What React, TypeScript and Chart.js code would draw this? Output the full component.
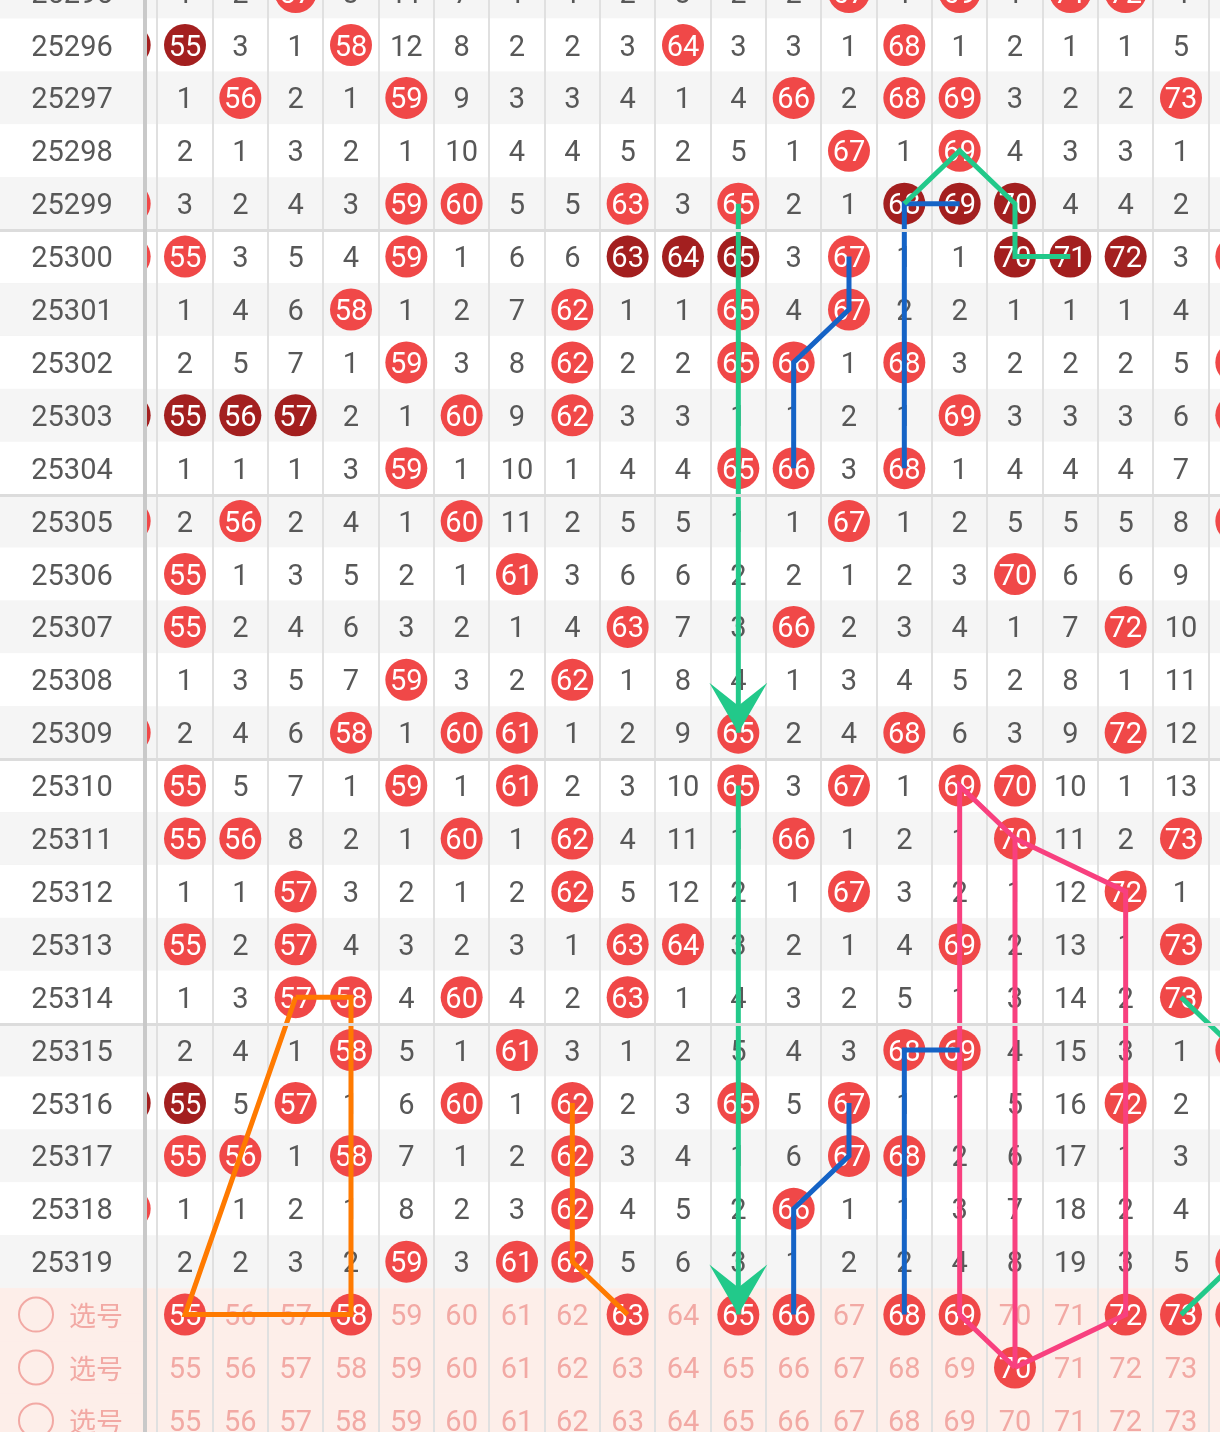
import { useEffect, useRef } from "react";
import { Chart, registerables } from "chart.js";

Chart.register(...registerables);

// ---- data ----
const columns = [55, 56, 57, 58, 59, 60, 61, 62, 63, 64, 65, 66, 67, 68, 69, 70, 71, 72, 73];
const periods = [
  "25295", "25296", "25297", "25298", "25299", "25300", "25301", "25302", "25303", "25304",
  "25305", "25306", "25307", "25308", "25309", "25310", "25311", "25312", "25313", "25314",
  "25315", "25316", "25317", "25318", "25319",
];
const R = 0; // drawn number (red ball)
const D = -1; // drawn consecutive number (dark ball)
// miss counts per period, columns 55..73
const missTable: number[][] = [
  [1, 2, R, 3, 11, 7, 1, 1, 2, 3, 2, 2, R, 1, R, 1, R, R, 4], // 25295
  [D, 3, 1, R, 12, 8, 2, 2, 3, R, 3, 3, 1, R, 1, 2, 1, 1, 5], // 25296
  [1, R, 2, 1, R, 9, 3, 3, 4, 1, 4, R, 2, R, R, 3, 2, 2, R], // 25297
  [2, 1, 3, 2, 1, 10, 4, 4, 5, 2, 5, 1, R, 1, R, 4, 3, 3, 1], // 25298
  [3, 2, 4, 3, R, R, 5, 5, R, 3, R, 2, 1, D, D, D, 4, 4, 2], // 25299
  [R, 3, 5, 4, R, 1, 6, 6, D, D, D, 3, R, 1, 1, D, D, D, 3], // 25300
  [1, 4, 6, R, 1, 2, 7, R, 1, 1, R, 4, R, 2, 2, 1, 1, 1, 4], // 25301
  [2, 5, 7, 1, R, 3, 8, R, 2, 2, R, R, 1, R, 3, 2, 2, 2, 5], // 25302
  [D, D, D, 2, 1, R, 9, R, 3, 3, 1, 1, 2, 1, R, 3, 3, 3, 6], // 25303
  [1, 1, 1, 3, R, 1, 10, 1, 4, 4, R, R, 3, R, 1, 4, 4, 4, 7], // 25304
  [2, R, 2, 4, 1, R, 11, 2, 5, 5, 1, 1, R, 1, 2, 5, 5, 5, 8], // 25305
  [R, 1, 3, 5, 2, 1, R, 3, 6, 6, 2, 2, 1, 2, 3, R, 6, 6, 9], // 25306
  [R, 2, 4, 6, 3, 2, 1, 4, R, 7, 3, R, 2, 3, 4, 1, 7, R, 10], // 25307
  [1, 3, 5, 7, R, 3, 2, R, 1, 8, 4, 1, 3, 4, 5, 2, 8, 1, 11], // 25308
  [2, 4, 6, R, 1, R, R, 1, 2, 9, R, 2, 4, R, 6, 3, 9, R, 12], // 25309
  [R, 5, 7, 1, R, 1, R, 2, 3, 10, R, 3, R, 1, R, R, 10, 1, 13], // 25310
  [R, R, 8, 2, 1, R, 1, R, 4, 11, 1, R, 1, 2, 1, R, 11, 2, R], // 25311
  [1, 1, R, 3, 2, 1, 2, R, 5, 12, 2, 1, R, 3, 2, 1, 12, R, 1], // 25312
  [R, 2, R, 4, 3, 2, 3, 1, R, R, 3, 2, 1, 4, R, 2, 13, 1, R], // 25313
  [1, 3, R, R, 4, R, 4, 2, R, 1, 4, 3, 2, 5, 1, 3, 14, 2, R], // 25314
  [2, 4, 1, R, 5, 1, R, 3, 1, 2, 5, 4, 3, R, R, 4, 15, 3, 1], // 25315
  [D, 5, R, 1, 6, R, 1, R, 2, 3, R, 5, R, 1, 1, 5, 16, R, 2], // 25316
  [R, R, 1, R, 7, 1, 2, R, 3, 4, 1, 6, R, R, 2, 6, 17, 1, 3], // 25317
  [1, 1, 2, 1, 8, 2, 3, R, 4, 5, 2, R, 1, 1, 3, 7, 18, 2, 4], // 25318
  [2, 2, 3, 2, R, 3, R, R, 5, 6, 3, 1, 2, 2, 4, 8, 19, 3, 5], // 25319
];
// balls of the neighbouring columns 54 and 74 (only their edges are visible)
const leftEdgeBalls = ["", "D", "", "", "R", "R", "", "", "D", "", "R", "", "", "", "R", "", "", "", "", "", "", "D", "", "R", ""];
const rightEdgeBalls = ["", "", "", "", "", "R", "", "R", "R", "", "R", "", "", "", "", "", "", "", "", "", "R", "", "", "", "R"];
const selectLabels = ["选号", "选号", "选号"];
const selectKeys = ["S1", "S2", "S3"];
const selectPicks = [[55, 58, 63, 65, 66, 68, 69, 72, 73, 74], [70], []];

type Pt = [number, string];
const greenLines: Pt[][] = [
  [[68, "25299"], [69, "25298"], [70, "25299"], [70, "25300"], [71, "25300"]],
  [[65, "25299"], [65, "25309"]],
  [[65, "25310"], [65, "S1"]],
  [[73, "25314"], [74, "25315"]],
  [[73, "S1"], [74, "25319"]],
];
const greenArrowTips: Pt[] = [[65, "25309"], [65, "S1"]];
const blueLines: Pt[][] = [
  [[69, "25299"], [68, "25299"], [68, "25304"]],
  [[67, "25300"], [67, "25301"], [66, "25302"], [66, "25304"]],
  [[69, "25315"], [68, "25315"], [68, "S1"]],
  [[67, "25316"], [67, "25317"], [66, "25318"], [66, "S1"]],
];
const orangeLines: Pt[][] = [
  [[57, "25314"], [58, "25314"], [58, "S1"], [55, "S1"], [57, "25314"]],
  [[62, "25316"], [62, "25319"], [63, "S1"]],
];
const pinkLines: Pt[][] = [
  [[70, "S2"], [69, "S1"], [69, "25310"], [70, "25311"], [72, "25312"], [72, "S1"], [70, "S2"]],
  [[70, "25311"], [70, "S2"]],
];
const groupBreaks = ["25300", "25305", "25310", "25315"];

// ---- styling ----
const RED = "#f04848";
const DARK = "#a31f1f";
const TEXT = "#585858";
const PALE = "#f2a9a4";
const GRAY_ROW = "#f5f5f5";
const PINK_ROW = "#fdeee9";
const GRID = "#e0e0e0";
const FONT = "29px Roboto, 'Noto Sans', sans-serif";
const CJK = "27px 'Noto Sans CJK SC', sans-serif";

const rowValue = (key: string): number => {
  const i = periods.indexOf(key);
  if (i >= 0) return i;
  return periods.length + selectKeys.indexOf(key);
};

const X_MIN = 55 - 185 / 55.333;
const X_MAX = 55 + 1035 / 55.333;
const Y_MIN = 1 - 45 / 52.9;
const Y_MAX = 1 + 1387 / 52.9;

function buildBalls() {
  const pts: { x: number; y: number }[] = [];
  const colors: string[] = [];
  periods.forEach((_, p) => {
    if (leftEdgeBalls[p]) {
      pts.push({ x: 54, y: p });
      colors.push(leftEdgeBalls[p] === "D" ? DARK : RED);
    }
    missTable[p].forEach((v, ci) => {
      if (v <= 0) {
        pts.push({ x: columns[ci], y: p });
        colors.push(v === D ? DARK : RED);
      }
    });
    if (rightEdgeBalls[p]) {
      pts.push({ x: 74, y: p });
      colors.push(rightEdgeBalls[p] === "D" ? DARK : RED);
    }
  });
  selectPicks.forEach((picks, s) => {
    picks.forEach((c) => {
      pts.push({ x: c, y: rowValue(selectKeys[s]) });
      colors.push(RED);
    });
  });
  return { pts, colors };
}

function lineSets(paths: Pt[][], color: string) {
  return paths.map((path, i) => ({
    type: "line" as const,
    label: `line-${color}-${i}`,
    data: path.map(([c, k]) => ({ x: c, y: rowValue(k) })),
    borderColor: color,
    borderWidth: 5,
    pointRadius: 0,
    showLine: true,
    fill: false,
    tension: 0,
    order: 0,
    clip: false as any,
  }));
}

const tablePlugin = {
  id: "lotteryTable",
  beforeDatasetsDraw(chart: any) {
    const { ctx } = chart;
    const xs = chart.scales.x;
    const ys = chart.scales.y;
    const W = chart.width;
    const total = periods.length + selectKeys.length;
    ctx.save();
    for (let p = 0; p < total; p++) {
      const top = ys.getPixelForValue(p - 0.5);
      const bot = ys.getPixelForValue(p + 0.5);
      ctx.fillStyle = p >= periods.length ? PINK_ROW : p % 2 === 0 ? GRAY_ROW : "#ffffff";
      ctx.fillRect(0, top, W, bot - top);
    }
    ctx.strokeStyle = GRID;
    ctx.lineWidth = 2;
    for (let c = 54; c <= 74; c++) {
      const x = Math.round(xs.getPixelForValue(c + 0.5));
      ctx.beginPath();
      ctx.moveTo(x, 0);
      ctx.lineTo(x, chart.height);
      ctx.stroke();
    }
    ctx.restore();
  },
  afterDatasetDraw(chart: any, args: any) {
    if (chart.data.datasets[args.index].label !== "balls") return;
    const { ctx } = chart;
    const xs = chart.scales.x;
    const ys = chart.scales.y;
    ctx.save();
    ctx.font = FONT;
    ctx.textAlign = "center";
    ctx.textBaseline = "alphabetic";
    periods.forEach((_, p) => {
      const y = ys.getPixelForValue(p) + 10.5;
      missTable[p].forEach((v, ci) => {
        const x = xs.getPixelForValue(columns[ci]);
        if (v <= 0) {
          ctx.fillStyle = "#ffffff";
          ctx.fillText(String(columns[ci]), x, y);
        } else {
          ctx.fillStyle = TEXT;
          ctx.fillText(String(v), x, y);
        }
      });
    });
    selectKeys.forEach((k, s) => {
      const y = ys.getPixelForValue(rowValue(k)) + 10.5;
      columns.forEach((c) => {
        const hit = selectPicks[s].includes(c);
        ctx.fillStyle = hit ? "#ffffff" : PALE;
        ctx.fillText(String(c), xs.getPixelForValue(c), y);
      });
    });
    ctx.restore();
  },
  afterDatasetsDraw(chart: any) {
    const { ctx } = chart;
    const xs = chart.scales.x;
    const ys = chart.scales.y;
    ctx.save();
    ctx.fillStyle = "#22c98a";
    greenArrowTips.forEach(([c, k]) => {
      const x = xs.getPixelForValue(c);
      const y = ys.getPixelForValue(rowValue(k));
      ctx.beginPath();
      ctx.moveTo(x, y);
      ctx.lineTo(x - 29, y - 50);
      ctx.lineTo(x, y - 27);
      ctx.lineTo(x + 29, y - 50);
      ctx.closePath();
      ctx.fill();
    });
    ctx.restore();
  },
  afterDraw(chart: any) {
    const { ctx } = chart;
    const ys = chart.scales.y;
    const W = chart.width;
    ctx.save();
    const total = periods.length + selectKeys.length;
    for (let p = 0; p < total; p++) {
      const top = ys.getPixelForValue(p - 0.5);
      const bot = ys.getPixelForValue(p + 0.5);
      ctx.fillStyle = p >= periods.length ? PINK_ROW : p % 2 === 0 ? GRAY_ROW : "#ffffff";
      ctx.fillRect(0, top, 143, bot - top);
    }
    ctx.textAlign = "center";
    ctx.font = FONT;
    ctx.fillStyle = TEXT;
    periods.forEach((label, p) => {
      ctx.fillText(label, 72, ys.getPixelForValue(p) + 10.5);
    });
    selectKeys.forEach((k, s) => {
      const y = ys.getPixelForValue(rowValue(k));
      ctx.strokeStyle = PALE;
      ctx.lineWidth = 2;
      ctx.beginPath();
      ctx.arc(36, y, 17, 0, Math.PI * 2);
      ctx.stroke();
      ctx.font = CJK;
      ctx.fillStyle = PALE;
      ctx.textBaseline = "middle";
      ctx.fillText(selectLabels[s], 96, y + 1);
    });
    // group separators
    ctx.fillStyle = "#dcdcdc";
    groupBreaks.forEach((k) => {
      const y = ys.getPixelForValue(rowValue(k) - 0.5);
      ctx.fillRect(0, Math.round(y) - 1, W, 3);
    });
    // fixed-column separator
    ctx.fillStyle = "#c9c9c9";
    ctx.fillRect(143, 0, 4, chart.height);
    ctx.restore();
  },
};

export default function App() {
  const ref = useRef<HTMLCanvasElement>(null);
  useEffect(() => {
    document.body.style.margin = "0";
    const canvas = ref.current;
    if (!canvas) return;
    const { pts, colors } = buildBalls();
    const datasets: any[] = [
      ...lineSets(greenLines, "#22c98a"),
      ...lineSets(blueLines, "#1563c6"),
      ...lineSets(orangeLines, "#ff7a00"),
      ...lineSets(pinkLines, "#f8407f"),
      {
        type: "scatter",
        label: "balls",
        data: pts,
        pointRadius: 21,
        pointHoverRadius: 21,
        pointBackgroundColor: colors,
        pointBorderWidth: 0,
        borderWidth: 0,
        showLine: false,
        order: 10,
        clip: false,
      },
    ];
    const chart = new Chart(canvas, {
      type: "scatter",
      data: { datasets },
      options: {
        animation: false,
        responsive: false,
        devicePixelRatio: 1,
        layout: { padding: 0, autoPadding: false },
        events: [],
        plugins: { legend: { display: false }, tooltip: { enabled: false } },
        scales: {
          x: { type: "linear", min: X_MIN, max: X_MAX, display: false },
          y: { type: "linear", min: Y_MIN, max: Y_MAX, reverse: true, display: false },
        },
      },
      plugins: [tablePlugin],
    });
    return () => chart.destroy();
  }, []);
  return (
    <div style={{ width: 1220, height: 1432, overflow: "hidden" }}>
      <canvas ref={ref} width={1220} height={1432} style={{ display: "block", width: 1220, height: 1432 }} />
    </div>
  );
}
